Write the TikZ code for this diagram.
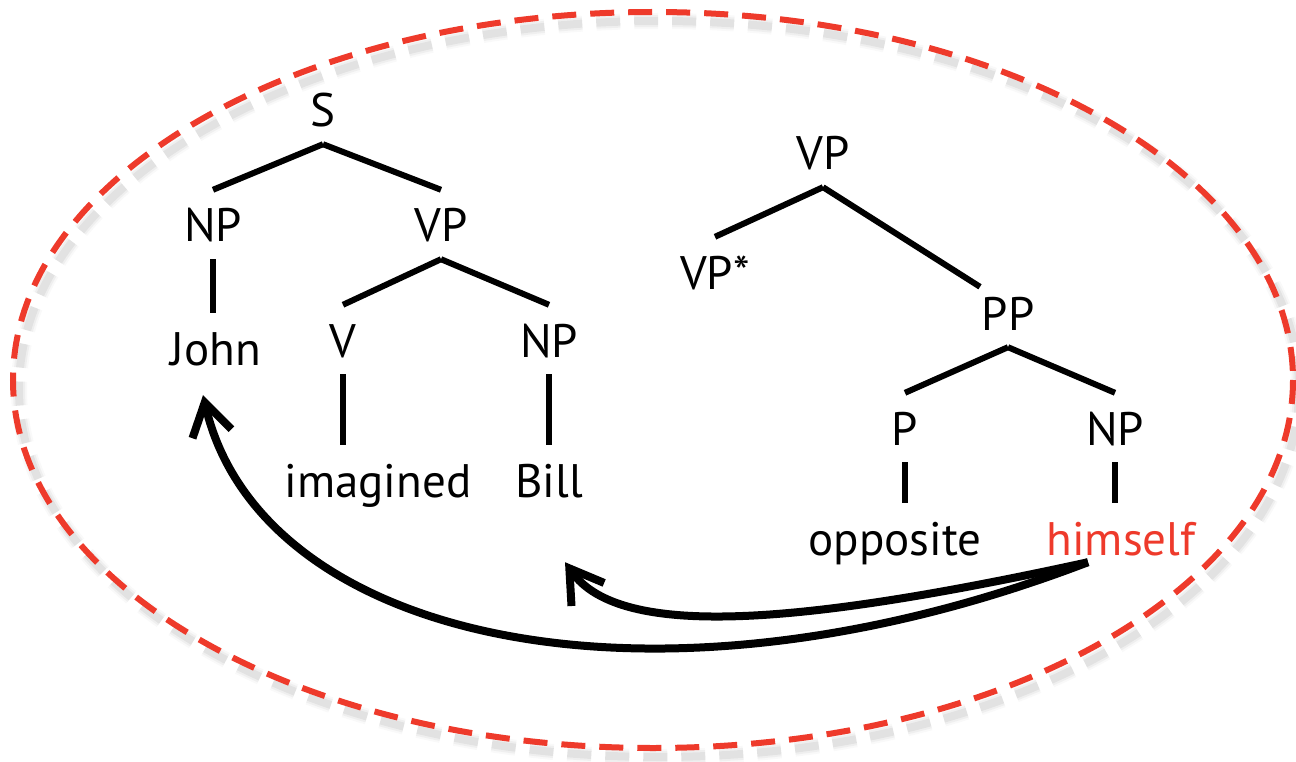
\documentclass[tikz,border=0pt]{standalone}
\usepackage{fontspec}
\setmainfont{PT Sans}
\usetikzlibrary{arrows.meta}
\definecolor{dashred}{HTML}{EE3A2B}
\tikzstyle{cat} = [anchor=base, 
inner sep=0pt, 
text height=52pt, 
text depth=17pt, 
font=\fontsize{47}{50}\selectfont]
\tikzstyle{branch} = [line width=6pt]
\tikzstyle{bind} = [line width=8pt, -{Straight Barb[length=32pt,width=40pt]}]
\tikzstyle{ring} = [dashred, line width=6pt, dash pattern=on 24pt off 14pt]

\begin{document}
\begin{tikzpicture}[x=1pt, y=-1pt]
    \useasboundingbox (0,0) rectangle (1296,762);
    \foreach \w/\op in {16/0.05, 12/0.08, 8/0.12}
        \draw [gray, line width=\w pt, opacity=\op, dash pattern=on 24pt off 14pt] (659,389) ellipse [x radius=640, y radius=368];
    \draw [ring] (653,380) ellipse [x radius=640, y radius=368];

    \node (S) [cat] at (323,127) {S};
    \node (np1) [cat] at (213,242) {NP};
    \node (vp1) [cat] at (441,242) {VP};
    \node (john) [cat] at (216,365) {John};
    \node (v) [cat] at (343,357) {V};
    \node (np2) [cat] at (549,357) {NP};
    \node (imagined) [cat] at (378,497) {imagined};
    \node (bill) [cat] at (549,497) {Bill};

    \node (vp2) [cat] at (823,170) {VP};
    \node (vpstar) [cat] at (715,289) {VP*};
    \node (pp) [cat] at (1008,330) {PP};
    \node (p) [cat] at (905,445) {P};
    \node (np3) [cat] at (1115,445) {NP};
    \node (opposite) [cat] at (895,555) {opposite};
    \node (himself) [cat, text=dashred] at (1121,555) {himself};

    \draw [branch] (S.south) -- (np1.north);
    \draw [branch] (S.south) -- (vp1.north);
    \draw [branch] (np1.south) -- (np1.south |- john.north);
    \draw [branch] (vp1.south) -- (v.north);
    \draw [branch] (vp1.south) -- (np2.north);
    \draw [branch] (v.south) -- (v.south |- imagined.north);
    \draw [branch] (np2.south) -- (bill.north);

    \draw [branch] (vp2.south) -- (vpstar.north);
    \draw [branch] (vp2.south) -- ([xshift=-28pt,yshift=-9pt]pp.north);
    \draw [branch] (pp.south) -- (p.north);
    \draw [branch] (pp.south) -- (np3.north);
    \draw [branch] (p.south) -- (p.south |- opposite.north);
    \draw [branch] (np3.south) -- (np3.south |- himself.north);

    \coordinate (src) at ([xshift=-33pt,yshift=10pt]himself.south);
    \coordinate (billtip) at ([xshift=16pt,yshift=-48pt]bill.south);
    \coordinate (johntip) at ([xshift=-13pt,yshift=-13pt]john.south);
    \draw [bind] (src) .. controls (800,625) and (620,640) .. (billtip);
    \draw [bind] (src) .. controls (650,730) and (260,640) .. (johntip);
\end{tikzpicture}
\end{document}
